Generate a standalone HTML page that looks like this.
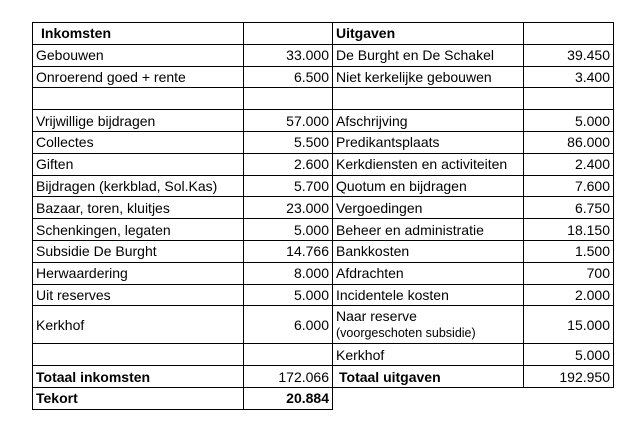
<!DOCTYPE html>
<html><head><meta charset="utf-8"><style>
body{margin:0;background:#fff;width:635px;height:428px;overflow:hidden;font-family:"Liberation Sans",Arial,sans-serif;font-size:14px;color:#000}
table{position:absolute;left:32px;top:22px;border-collapse:collapse;table-layout:fixed}
td{border:1px solid #000;padding:0 3px;height:21.8px;line-height:16px;white-space:nowrap;overflow:hidden;box-sizing:border-box}
td.r{text-align:right}
.b{font-weight:bold}
tr.tall td{height:38px}
td.n{border:none}
.s{font-size:12.5px}
</style></head><body>
<table>
<colgroup><col style="width:211px"><col style="width:89px"><col style="width:191px"><col style="width:90px"></colgroup>
<tr><td class="b" style="padding-left:8px">Inkomsten</td><td></td><td class="b">Uitgaven</td><td></td></tr>
<tr><td>Gebouwen</td><td class="r">33.000</td><td>De Burght en De Schakel</td><td class="r">39.450</td></tr>
<tr><td>Onroerend goed + rente</td><td class="r">6.500</td><td>Niet kerkelijke gebouwen</td><td class="r">3.400</td></tr>
<tr><td></td><td></td><td></td><td></td></tr>
<tr><td>Vrijwillige bijdragen</td><td class="r">57.000</td><td>Afschrijving</td><td class="r">5.000</td></tr>
<tr><td>Collectes</td><td class="r">5.500</td><td>Predikantsplaats</td><td class="r">86.000</td></tr>
<tr><td>Giften</td><td class="r">2.600</td><td>Kerkdiensten en activiteiten</td><td class="r">2.400</td></tr>
<tr><td>Bijdragen (kerkblad, Sol.Kas)</td><td class="r">5.700</td><td>Quotum en bijdragen</td><td class="r">7.600</td></tr>
<tr><td>Bazaar, toren, kluitjes</td><td class="r">23.000</td><td>Vergoedingen</td><td class="r">6.750</td></tr>
<tr><td>Schenkingen, legaten</td><td class="r">5.000</td><td>Beheer en administratie</td><td class="r">18.150</td></tr>
<tr><td>Subsidie De Burght</td><td class="r">14.766</td><td>Bankkosten</td><td class="r">1.500</td></tr>
<tr><td>Herwaardering</td><td class="r">8.000</td><td>Afdrachten</td><td class="r">700</td></tr>
<tr><td>Uit reserves</td><td class="r">5.000</td><td>Incidentele kosten</td><td class="r">2.000</td></tr>
<tr class="tall"><td>Kerkhof</td><td class="r">6.000</td><td>Naar reserve<br><span class="s">(voorgeschoten subsidie)</span></td><td class="r">15.000</td></tr>
<tr><td></td><td></td><td>Kerkhof</td><td class="r">5.000</td></tr>
<tr><td class="b">Totaal inkomsten</td><td class="r">172.066</td><td class="b" style="padding-left:6px">Totaal uitgaven</td><td class="r">192.950</td></tr>
<tr><td class="b">Tekort</td><td class="r b">20.884</td><td class="n"></td><td class="n"></td></tr>
</table>
</body></html>
